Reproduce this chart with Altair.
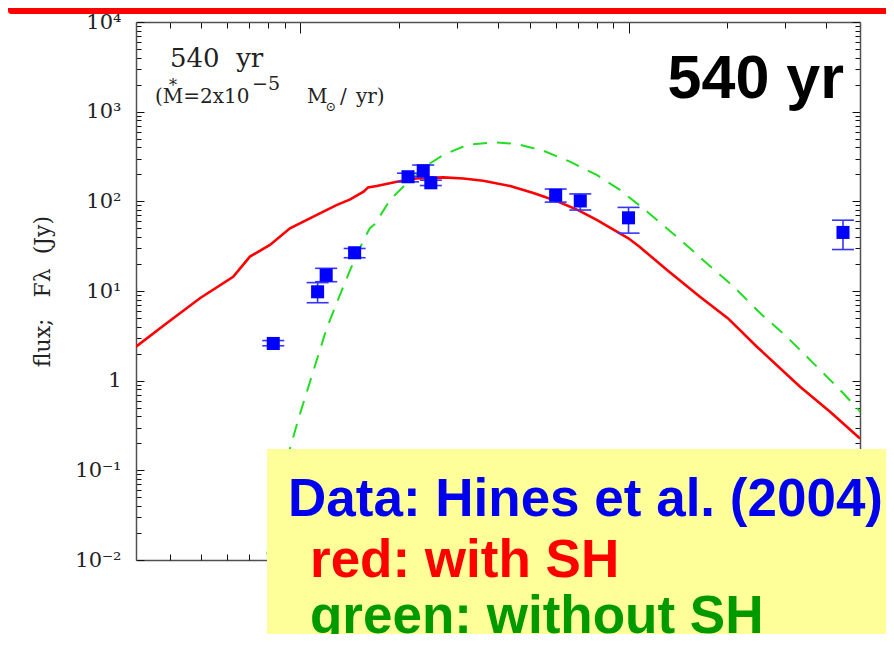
import altair as alt
import pandas as pd

# ---- data ----
# observations (Hines et al. 2004): wavelength [um], flux [Jy], error range
obs_lam = [8.28, 11.3, 12.0, 14.65, 21.3, 23.7, 25.0, 60.0, 71.3, 100.0, 450.0]
obs_flux = [2.6, 9.8, 15.0, 26.7, 188, 219, 161, 117, 101, 65.5, 45.0]
obs_lo = [2.45, 7.4, 12.7, 23.5, 165, 188, 150, 98, 80, 44.2, 29.0]
obs_hi = [2.8, 12.4, 17.9, 29.8, 206, 254, 172, 137, 121, 85.6, 61.6]

# model with SH (red, solid)
red_lam = [3.162, 3.92, 4.95, 6.25, 7.03, 8.09, 9.31, 11.2, 12.9, 14.2, 15.6, 16.1, 17.1,
           19.7, 22.6, 27.3, 31.4, 36.1, 43.6, 51.3, 60.4, 70.2, 80.0, 99.9, 108, 131,
           165, 201, 246, 333, 411, 507]
red_flux = [2.39, 4.36, 8.30, 14.4, 24.2, 32.6, 50.1, 70.3, 90.8, 105, 128, 143, 148,
            165, 180, 185, 180, 170, 148, 124, 101, 79.8, 62.0, 38.7, 31.2, 17.1,
            8.65, 4.95, 2.39, 0.857, 0.45, 0.227]

# model without SH (green, dashed)
green_lam = [7.65, 7.87, 9.31, 9.92, 12.0, 12.9, 14.2, 15.6, 16.3, 16.9, 18.8, 21.1, 24.9,
             27.3, 32.2, 38.7, 45.6, 55.0, 66.3, 80.0, 94.2, 114, 144, 173, 209, 252,
             303, 366, 441, 513]
green_flux = [0.0063, 0.01, 0.176, 0.394, 3.68, 7.30, 17.2, 37.1, 50.1, 56, 104, 159, 266,
              329, 425, 456, 437, 367, 277, 197, 134, 76.7, 37.1, 20.4, 11.2, 5.64,
              3.10, 1.56, 0.788, 0.433]

# axes
x_domain = [3.162, 507]
y_domain = [0.01, 10000]
x_ticks = [4, 5, 6, 7, 8, 9, 10, 20, 30, 40, 50, 60, 70, 80, 90, 100, 200, 300, 400]
x_major = [10, 100]
y_major = [0.01, 0.1, 1, 10, 100, 1000, 10000]
y_labels = ["10\u207b\u00b2", "10\u207b\u00b9", "1", "10\u00b9", "10\u00b2", "10\u00b3", "10\u2074"]
y_ticks = [m * v for v in y_major[:-1] for m in range(1, 10)] + [y_major[-1]]

W, H = 724, 538
SERIF = "DejaVu Serif"
SANS = "Liberation Sans"

xs = alt.Scale(type="log", domain=x_domain, nice=False)
ys = alt.Scale(type="log", domain=y_domain, nice=False)

label_expr = " : ".join(
    f"datum.value < {v * 3} ? '{lab}'" for v, lab in zip(y_major, y_labels)
) + " : ''"

x_major_test = " || ".join(f"datum.value == {v}" for v in x_major)
y_major_test = " || ".join(f"datum.value == {v}" for v in y_major)
x_tick_size = {"condition": {"test": x_major_test, "value": 11}, "value": 6}
y_tick_size = {"condition": {"test": y_major_test, "value": 8}, "value": 5}

red_df = pd.DataFrame({"lam": red_lam, "flux": red_flux})
green_df = pd.DataFrame({"lam": green_lam, "flux": green_flux})
obs_df = pd.DataFrame({"lam": obs_lam, "flux": obs_flux, "lo": obs_lo, "hi": obs_hi})
cap_df = pd.DataFrame({"lam": obs_lam + obs_lam, "flux": obs_lo + obs_hi})
one = pd.DataFrame({"a": [0]})

DOM = "#505050"

# green dashed model, carries top border + inward ticks on top & left edges
green = alt.Chart(green_df).mark_line(
    color="#22dd22", strokeWidth=2, strokeDash=[14, 10], clip=True
).encode(
    x=alt.X("lam:Q", scale=xs, axis=alt.Axis(
        orient="bottom", offset=-H, values=x_ticks, labels=False, grid=False,
        domain=True, domainColor=DOM, domainWidth=1.5, tickColor="#111",
        tickWidth=1, tickSize=x_tick_size, title=None)),
    y=alt.Y("flux:Q", scale=ys, axis=alt.Axis(
        orient="right", offset=-W, values=y_ticks, labels=False, grid=False,
        domain=False, tickColor="#111", tickWidth=1, tickSize=y_tick_size, title=None)),
)

# red solid model, carries left labelled axis and bottom border
red = alt.Chart(red_df).mark_line(color="#ff0000", strokeWidth=2.6, clip=True).encode(
    x=alt.X("lam:Q", scale=xs, axis=alt.Axis(
        orient="bottom", labels=False, ticks=False, grid=False, domain=True,
        domainColor=DOM, domainWidth=1.5, title=None)),
    y=alt.Y("flux:Q", scale=ys, axis=alt.Axis(
        orient="left", values=y_major, labelExpr=label_expr, labelOverlap=False,
        ticks=False, tickSize=0, labelPadding=15, labelFont=SERIF, labelFontSize=21,
        labelColor="#222222", grid=False, domain=True, domainColor=DOM, domainWidth=1.5,
        title="flux;\u00a0\u00a0\u00a0F\u03bb\u00a0\u00a0(Jy)", titleFont=SERIF,
        titleFontSize=22, titleFontWeight="normal", titleColor="#222222",
        titleX=-94, titleY=269, titleAngle=270, titleAlign="center",
        titleBaseline="middle")),
)

# error bars
bars = alt.Chart(obs_df).mark_rule(color="#3535ff", strokeWidth=1.6).encode(
    x=alt.X("lam:Q", scale=xs, axis=None),
    y=alt.Y("lo:Q", scale=ys, axis=None),
    y2="hi:Q",
)
caps = alt.Chart(cap_df).mark_tick(
    orient="horizontal", size=22, thickness=1.6, color="#3535ff", opacity=1
).encode(
    x=alt.X("lam:Q", scale=xs, axis=None),
    y=alt.Y("flux:Q", scale=ys, axis=None),
)

# data squares, carry right border + inward ticks on bottom & right edges
points = alt.Chart(obs_df).mark_square(size=170, color="#0000ff", opacity=1).encode(
    x=alt.X("lam:Q", scale=xs, axis=alt.Axis(
        orient="top", offset=-H, values=x_ticks, labels=False, grid=False,
        domain=False, tickColor="#111", tickWidth=1, tickSize=x_tick_size, title=None)),
    y=alt.Y("flux:Q", scale=ys, axis=alt.Axis(
        orient="left", offset=-W, values=y_ticks, labels=False, grid=False,
        domain=True, domainColor=DOM, domainWidth=1.5, tickColor="#111",
        tickWidth=1, tickSize=y_tick_size, title=None)),
)


def txt(text, x, y, size, font=SERIF, color="#222222", weight="normal",
        align="left", baseline="alphabetic"):
    return alt.Chart(one).mark_text(
        text=text, font=font, fontSize=size, fontWeight=weight, color=color,
        align=align, baseline=baseline
    ).encode(x=alt.value(x), y=alt.value(y))


annot = [
    txt("540\u00a0\u00a0yr", 34, 45, 26),
    txt("(M=2x10", 19, 81, 20),
    txt("*", 37, 69, 16, align="center"),
    txt("\u22125", 116, 68, 19),
    txt("M", 171, 81, 20),
    txt("\u2299", 195, 85, 13, align="center", baseline="middle"),
    txt("/", 204, 81, 20),
    txt("yr)", 220, 81, 20),
    txt("540 yr", 708, 76, 61, font=SANS, color="#000000", weight="bold", align="right"),
]

top_bar = alt.Chart(one).mark_rect(color="#ff0000", cornerRadiusBottomLeft=7).encode(
    x=alt.value(-128), x2=alt.value(760), y=alt.value(-14), y2=alt.value(-8)
)
box = alt.Chart(one).mark_rect(color="#ffff99").encode(
    x=alt.value(131), x2=alt.value(760), y=alt.value(427), y2=alt.value(620)
)
box_text = [
    txt("Data: Hines et al. (2004)", 152, 494, 53, font=SANS, color="#0000ee", weight="bold"),
    txt("red: with SH", 174, 555, 53, font=SANS, color="#ff0000", weight="bold"),
    txt("green: without SH", 174, 611, 53, font=SANS, color="#009900", weight="bold"),
]

chart = alt.layer(
    green, red, bars, caps, points, *annot, top_bar, box, *box_text
).resolve_axis(
    x="independent", y="independent"
).properties(
    width=W, height=H,
    autosize=alt.AutoSizeParams(type="none"),
    padding={"left": 128, "top": 14, "right": 26, "bottom": 74},
    background="#ffffff",
).configure_view(stroke=None)

chart.save("out.html", embed_options={"renderer": "svg", "actions": False})
